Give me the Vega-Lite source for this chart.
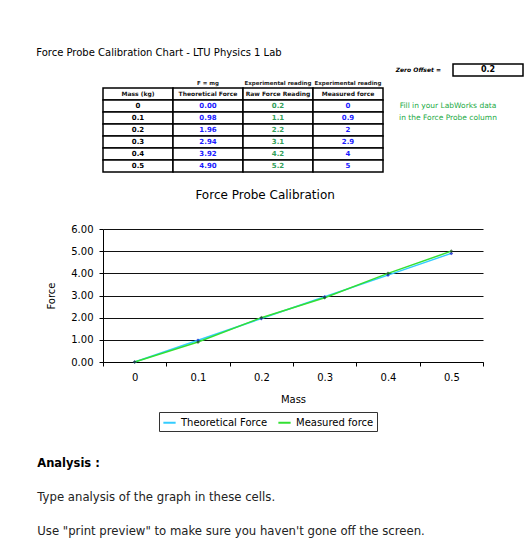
{
  "$schema": "https://vega.github.io/schema/vega-lite/v6.json",
  "background": "white",
  "padding": {"left": 36, "top": 48, "right": 0, "bottom": 0},
  "config": {
    "font": "DejaVu Sans",
    "view": {"stroke": null}
  },
  "resolve": {"scale": {"color": "independent"}, "legend": {"color": "independent"}},
  "datasets": {
    "cells": [
      {"row": "offset", "col": "note", "label": "Zero Offset =", "kind": "offset"},
      {"row": "offset", "col": "val", "label": "0.2", "kind": "box"},
      {"row": "super", "col": "theo", "label": "F = mg", "kind": "super"},
      {"row": "super", "col": "raw", "label": "Experimental reading", "kind": "super"},
      {"row": "super", "col": "meas", "label": "Experimental reading", "kind": "super"},
      {"row": "header", "col": "mass", "label": "Mass (kg)", "kind": "head"},
      {"row": "header", "col": "theo", "label": "Theoretical Force", "kind": "head"},
      {"row": "header", "col": "raw", "label": "Raw Force Reading", "kind": "head"},
      {"row": "header", "col": "meas", "label": "Measured force", "kind": "head"},
      {"row": "0", "col": "mass", "label": "0", "kind": "mass"},
      {"row": "0.1", "col": "mass", "label": "0.1", "kind": "mass"},
      {"row": "0.2", "col": "mass", "label": "0.2", "kind": "mass"},
      {"row": "0.3", "col": "mass", "label": "0.3", "kind": "mass"},
      {"row": "0.4", "col": "mass", "label": "0.4", "kind": "mass"},
      {"row": "0.5", "col": "mass", "label": "0.5", "kind": "mass"},
      {"row": "0", "col": "theo", "label": "0.00", "kind": "theo"},
      {"row": "0.1", "col": "theo", "label": "0.98", "kind": "theo"},
      {"row": "0.2", "col": "theo", "label": "1.96", "kind": "theo"},
      {"row": "0.3", "col": "theo", "label": "2.94", "kind": "theo"},
      {"row": "0.4", "col": "theo", "label": "3.92", "kind": "theo"},
      {"row": "0.5", "col": "theo", "label": "4.90", "kind": "theo"},
      {"row": "0", "col": "raw", "label": "0.2", "kind": "raw"},
      {"row": "0.1", "col": "raw", "label": "1.1", "kind": "raw"},
      {"row": "0.2", "col": "raw", "label": "2.2", "kind": "raw"},
      {"row": "0.3", "col": "raw", "label": "3.1", "kind": "raw"},
      {"row": "0.4", "col": "raw", "label": "4.2", "kind": "raw"},
      {"row": "0.5", "col": "raw", "label": "5.2", "kind": "raw"},
      {"row": "0", "col": "meas", "label": "0", "kind": "theo"},
      {"row": "0.1", "col": "meas", "label": "0.9", "kind": "theo"},
      {"row": "0.2", "col": "meas", "label": "2", "kind": "theo"},
      {"row": "0.3", "col": "meas", "label": "2.9", "kind": "theo"},
      {"row": "0.4", "col": "meas", "label": "4", "kind": "theo"},
      {"row": "0.5", "col": "meas", "label": "5", "kind": "theo"},
      {"row": "0", "col": "note", "label": "Fill in your LabWorks data", "kind": "note"},
      {"row": "0.1", "col": "note", "label": "in the Force Probe column", "kind": "note"}
    ],
    "series": [
      {"mass": "0", "series": "Theoretical Force", "force": 0.0},
      {"mass": "0.1", "series": "Theoretical Force", "force": 0.98},
      {"mass": "0.2", "series": "Theoretical Force", "force": 1.96},
      {"mass": "0.3", "series": "Theoretical Force", "force": 2.94},
      {"mass": "0.4", "series": "Theoretical Force", "force": 3.92},
      {"mass": "0.5", "series": "Theoretical Force", "force": 4.9},
      {"mass": "0", "series": "Measured force", "force": 0},
      {"mass": "0.1", "series": "Measured force", "force": 0.9},
      {"mass": "0.2", "series": "Measured force", "force": 2},
      {"mass": "0.3", "series": "Measured force", "force": 2.9},
      {"mass": "0.4", "series": "Measured force", "force": 4},
      {"mass": "0.5", "series": "Measured force", "force": 5}
    ]
  },
  "title": {
    "text": "Analysis :",
    "subtitle": ["Type analysis of the graph in these cells.", "Use \"print preview\" to make sure you haven't gone off the screen."],
    "orient": "bottom",
    "anchor": "start",
    "frame": "bounds",
    "font": "DejaVu Sans",
    "subtitleFont": "DejaVu Sans",
    "fontSize": 11.5,
    "fontWeight": "bold",
    "color": "black",
    "subtitleFontSize": 11.7,
    "subtitleColor": "#222",
    "subtitlePadding": 23,
    "subtitleLineHeight": 34,
    "offset": 26,
    "dx": 1
  },
  "spacing": 16,
  "vconcat": [
    {
      "width": 420,
      "height": 108,
      "title": {
        "text": "Force Probe Calibration Chart - LTU Physics 1 Lab",
        "anchor": "start",
        "fontSize": 10,
        "fontWeight": "normal",
        "color": "black",
        "dx": -66,
        "offset": 5
      },
      "data": {"name": "cells"},
      "encoding": {
        "x": {
          "field": "col", "type": "nominal",
          "scale": {"type": "band", "domain": ["mass", "theo", "raw", "meas", "note", "val"], "paddingInner": 0, "paddingOuter": 0},
          "axis": null
        },
        "y": {
          "field": "row", "type": "nominal",
          "scale": {"type": "band", "domain": ["offset", "super", "header", "0", "0.1", "0.2", "0.3", "0.4", "0.5"], "paddingInner": 0, "paddingOuter": 0},
          "axis": null
        },
        "text": {"field": "label", "type": "nominal"}
      },
      "layer": [
        {
          "transform": [{"filter": "datum.kind != 'super' && datum.kind != 'note' && datum.kind != 'offset'"}],
          "mark": {"type": "rect", "fill": "white", "stroke": "black", "strokeWidth": 1.5}
        },
        {
          "transform": [{"filter": "datum.kind == 'head'"}],
          "mark": {"type": "text", "fontSize": 6, "fontWeight": "bold", "color": "#111111"}
        },
        {
          "transform": [{"filter": "datum.kind == 'super'"}],
          "mark": {"type": "text", "fontSize": 5.5, "fontWeight": "bold", "color": "#222222", "dy": 1}
        },
        {
          "transform": [{"filter": "datum.kind == 'mass' || datum.kind == 'theo' || datum.kind == 'raw'"}],
          "mark": {"type": "text", "fontSize": 7, "fontWeight": "bold"},
          "encoding": {
            "color": {
              "field": "kind", "type": "nominal", "legend": null,
              "scale": {"domain": ["mass", "theo", "raw"], "range": ["#000000", "#1a1aff", "#33a05a"]}
            }
          }
        },
        {
          "transform": [{"filter": "datum.kind == 'box'"}],
          "mark": {"type": "text", "fontSize": 8, "fontWeight": "bold", "color": "black"}
        },
        {
          "transform": [{"filter": "datum.kind == 'note'"}],
          "mark": {"type": "text", "fontSize": 7.5, "align": "center", "color": "#22aa44", "dx": 30}
        },
        {
          "transform": [{"filter": "datum.kind == 'offset'"}],
          "mark": {"type": "text", "fontSize": 6, "fontStyle": "italic", "fontWeight": "bold", "align": "right", "color": "black", "dx": -12},
          "encoding": {"x": {"field": "col", "type": "nominal", "bandPosition": 1}}
        }
      ]
    },
    {
      "width": 380,
      "height": 133,
      "title": {
        "text": "Force Probe Calibration",
        "anchor": "middle",
        "frame": "bounds",
        "fontSize": 12,
        "fontWeight": "normal",
        "color": "black",
        "offset": 22
      },
      "data": {"name": "series"},
      "encoding": {
        "x": {
          "field": "mass", "type": "ordinal", "bandPosition": 0.5,
          "scale": {"type": "band", "paddingInner": 0, "paddingOuter": 0},
          "axis": {"title": "Mass", "labelAngle": 0, "labelFontSize": 10, "labelColor": "black", "titleFontSize": 10, "titleFontWeight": "normal", "titleColor": "black", "domainColor": "black", "tickColor": "black", "tickBand": "extent", "tickSize": 4, "labelPadding": 6, "titlePadding": 12}
        },
        "y": {
          "field": "force", "type": "quantitative",
          "scale": {"domain": [0, 6]},
          "axis": {"title": "Force", "values": [0, 1, 2, 3, 4, 5, 6], "format": ".2f", "labelFontSize": 10, "labelColor": "black", "titleFontSize": 10, "titleFontWeight": "normal", "titleColor": "black", "domainColor": "black", "tickColor": "black", "tickSize": 4, "labelPadding": 6, "gridColor": "#111111", "gridWidth": 1, "titlePadding": 14}
        }
      },
      "layer": [
        {
          "mark": {"type": "line", "strokeWidth": 1.5},
          "encoding": {
            "color": {
              "field": "series", "type": "nominal",
              "scale": {"domain": ["Theoretical Force", "Measured force"], "range": ["#33ccff", "#33e033"]},
              "legend": {"title": null, "orient": "none", "legendX": 56, "legendY": 183, "direction": "horizontal", "strokeColor": "#333", "padding": 3, "labelFontSize": 10, "labelColor": "black", "symbolType": "stroke", "symbolStrokeWidth": 2, "symbolSize": 150, "columnPadding": 6}
            }
          }
        },
        {
          "mark": {"type": "point", "shape": "diamond", "filled": true, "size": 14},
          "encoding": {
            "color": {"condition": {"test": "datum.series === 'Theoretical Force'", "value": "#1010cc"}, "value": "#1a4a1a"}
          }
        }
      ]
    }
  ]
}
